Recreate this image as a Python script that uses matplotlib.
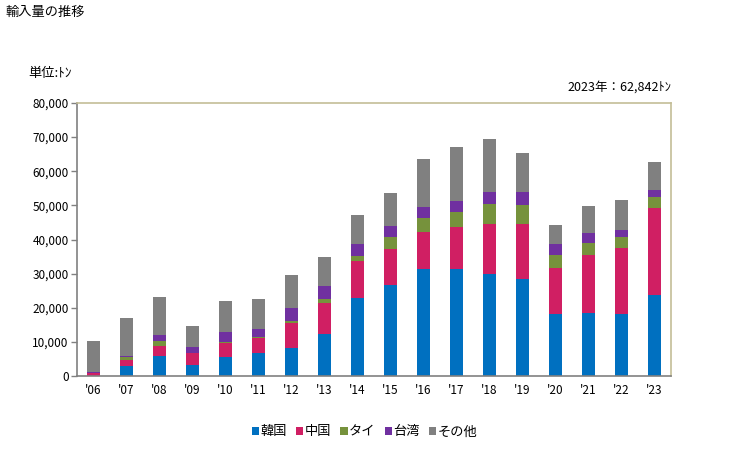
import matplotlib
matplotlib.use("Agg")
import matplotlib.pyplot as plt
import numpy as np
from matplotlib.ticker import FuncFormatter

plt.rcParams['font.family'] = ['Noto Sans CJK JP', 'DejaVu Sans']

# data (tons)
years = ["'06", "'07", "'08", "'09", "'10", "'11", "'12", "'13", "'14",
         "'15", "'16", "'17", "'18", "'19", "'20", "'21", "'22", "'23"]
korea = [0, 2900, 5900, 3100, 5600, 6600, 8300, 12400, 23000,
         26700, 31400, 31400, 30000, 28500, 18300, 18500, 18300, 23800]
china = [900, 1800, 2900, 3500, 4100, 4600, 7100, 9000, 10700,
         10600, 10800, 12300, 14600, 16100, 13400, 17000, 19300, 25500]
thai = [0, 900, 1500, 250, 300, 200, 700, 1200, 1500,
        3500, 4200, 4400, 5900, 5600, 3800, 3500, 3200, 3200]
taiwan = [300, 300, 1700, 1700, 2900, 2400, 3900, 3800, 3500,
          3200, 3200, 3200, 3500, 3800, 3200, 3000, 2000, 2100]
other = [9100, 11100, 11200, 6200, 9100, 8800, 9600, 8500, 8500,
         9700, 14100, 15900, 15500, 11400, 5600, 7900, 8800, 8242]

series = [("韓国", korea, "#0070c0"),
          ("中国", china, "#d01f63"),
          ("タイ", thai, "#76923c"),
          ("台湾", taiwan, "#7030a0"),
          ("その他", other, "#808080")]

fig = plt.figure(figsize=(7.29, 4.5), dpi=100)
ax = fig.add_axes([77 / 729, 1 - 376 / 450, (671 - 77) / 729, (376 - 103) / 450])

x = np.arange(len(years))
bottom = np.zeros(len(years))
for name, vals, col in series:
    ax.bar(x, vals, width=0.4, bottom=bottom, color=col, label=name, zorder=2)
    bottom += np.array(vals)

ax.set_xlim(-0.5, len(years) - 0.5)
ax.set_ylim(0, 80000)
ax.set_yticks(np.arange(0, 80001, 10000))
ax.yaxis.set_major_formatter(FuncFormatter(lambda v, p: f"{int(v):,}"))
ax.set_xticks(x)
ax.set_xticklabels(years)
ax.tick_params(axis='y', length=4, width=1, color='#808080', labelsize=8.5, pad=2)
ax.tick_params(axis='x', length=0, labelsize=8.5, pad=6)

for s in ['left', 'bottom']:
    ax.spines[s].set_color('#808080')
    ax.spines[s].set_linewidth(1.2)
for s in ['top', 'right']:
    ax.spines[s].set_color('#c4bd97')
    ax.spines[s].set_linewidth(1.2)

fig.text(5 / 729, 1 - 12 / 450, "輸入量の推移", fontsize=9.5, va='center', ha='left')
fig.text(28 / 729, 1 - 73 / 450, "単位:ﾄﾝ", fontsize=9.5, va='center', ha='left')
fig.text(671 / 729, 1 - 87 / 450, "2023年：62,842ﾄﾝ", fontsize=9, va='center', ha='right')

handles, labels = ax.get_legend_handles_labels()
fig.legend(handles, labels, loc='center', bbox_to_anchor=(0.5, 1 - 432 / 450), ncol=5,
           frameon=False, fontsize=9.5, handlelength=0.55, handleheight=0.55,
           handletextpad=0.1, columnspacing=0.7)

fig.savefig("out.png", dpi=100)
